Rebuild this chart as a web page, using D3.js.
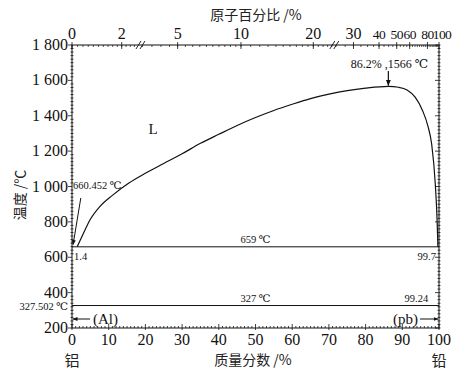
<!DOCTYPE html>
<html>
<head>
<meta charset="utf-8">
<script src="https://cdn.jsdelivr.net/npm/d3@7/dist/d3.min.js"></script>
<style>
  html, body { margin: 0; padding: 0; background: #fff; }
  svg { display: block; }
  .num { font-family: "Liberation Serif", "DejaVu Serif", serif; fill: #111; }
  .cjk { font-family: "Noto Sans CJK SC", sans-serif; fill: #222; }
</style>
</head>
<body>
<svg id="chart" width="459" height="375"></svg>
<script>
// bottom axis: mass % Pb
const wtTicks = [0, 10, 20, 30, 40, 50, 60, 70, 80, 90, 100];
// left axis: temperature
const tempTicks = [200, 400, 600, 800, 1000, 1200, 1400, 1600, 1800];
const tempLabels = ["200", "400", "600", "800", "1 000", "1 200", "1 400", "1 600", "1 800"];
// top axis: atomic % Pb
const atTicks = [0, 2, 5, 10, 20, 30, 40, 50, 60, 80, 100];
const atBreaks = [2.9, 24.6];

// liquidus (mass %, °C)
const liqWt = [1.4, 3, 5, 7.5, 11, 15.5, 20, 25, 30, 35, 40, 45, 50, 55, 60, 65, 70, 75, 80, 86.2, 89, 91.3, 93.5, 95.5, 97, 98, 99, 99.5, 99.7];
const liqT  = [659, 730, 815, 885, 950, 1020, 1075, 1130, 1185, 1244, 1295, 1345, 1390, 1430, 1465, 1497, 1522, 1542, 1556, 1566, 1561, 1546, 1505, 1430, 1340, 1240, 1010, 800, 659];

// invariant horizontals
const invTemps = [659, 327];

const svg = d3.select("#chart");
svg.append("rect").attr("width", 459).attr("height", 375).attr("fill", "#fff");

const x = d3.scaleLinear().domain([0, 100]).range([72, 439]);
const y = d3.scaleLinear().domain([200, 1800]).range([328, 45]);
const AL = 26.98, PB = 207.2;
const atToWt = a => 100 * a * PB / (a * PB + (100 - a) * AL);
const xTop = a => x(atToWt(a));

const ink = "#111";
const g = svg.append("g");

// frame
g.append("rect").attr("x", x(0)).attr("y", y(1800)).attr("width", x(100) - x(0)).attr("height", y(200) - y(1800))
  .attr("fill", "none").attr("stroke", ink).attr("stroke-width", 1);

// left and right axis ticks
d3.range(200, 1801, 20).forEach(t => {
  const major = t % 200 === 0;
  g.append("line").attr("x1", x(0) - (major ? 4 : 1.5)).attr("x2", x(0) + (major ? 0 : 1.5))
    .attr("y1", y(t)).attr("y2", y(t)).attr("stroke", ink).attr("stroke-width", 0.8);
  g.append("line").attr("x1", x(100) - (major ? 4 : 1.5)).attr("x2", x(100) + 1.5)
    .attr("y1", y(t)).attr("y2", y(t)).attr("stroke", ink).attr("stroke-width", 0.8);
});
tempTicks.forEach((t, i) => {
  g.append("text").attr("class", "num").attr("x", x(0) - 4).attr("y", y(t) + 5)
    .attr("text-anchor", "end").style("font-size", "16px").text(tempLabels[i]);
});

// bottom axis ticks
d3.range(0, 101, 1).forEach(w => {
  const major = w % 10 === 0;
  g.append("line").attr("x1", x(w)).attr("x2", x(w)).attr("y1", y(200) + (major ? 2 : 0)).attr("y2", y(200) - (major ? 4 : 2))
    .attr("stroke", ink).attr("stroke-width", 0.8);
});
wtTicks.forEach(w => {
  g.append("text").attr("class", "num").attr("x", x(w)).attr("y", 345)
    .attr("text-anchor", "middle").style("font-size", "16px").text(w);
});

// top axis ticks (atomic %)
const atMinor = d3.range(0, 2.8, 0.2).concat(d3.range(3, 10, 0.5), d3.range(10, 24.5, 1), d3.range(25, 100, 2.5));
atMinor.forEach(a => {
  g.append("line").attr("x1", xTop(a)).attr("x2", xTop(a)).attr("y1", y(1800)).attr("y2", y(1800) + 2)
    .attr("stroke", ink).attr("stroke-width", 0.7);
});
atTicks.forEach(a => {
  const tight = a >= 40;
  g.append("line").attr("x1", xTop(a)).attr("x2", xTop(a)).attr("y1", y(1800) - 3).attr("y2", y(1800) + 4)
    .attr("stroke", ink).attr("stroke-width", 0.8);
  g.append("text").attr("class", "num").attr("x", xTop(a) + (a === 100 ? 3 : 0)).attr("y", 39)
    .attr("text-anchor", "middle").style("font-size", tight ? "13.5px" : "16px")
    .style("letter-spacing", tight ? "-0.6px" : "0").text(a);
});
// axis breaks
atBreaks.forEach(a => {
  [-2, 2].forEach(dx => {
    g.append("line").attr("x1", xTop(a) + dx - 2.5).attr("x2", xTop(a) + dx + 2.5)
      .attr("y1", y(1800) + 4).attr("y2", y(1800) - 4).attr("stroke", ink).attr("stroke-width", 0.9);
  });
});

// invariant lines
invTemps.forEach(t => {
  g.append("line").attr("x1", x(0)).attr("x2", x(100)).attr("y1", y(t)).attr("y2", y(t))
    .attr("stroke", ink).attr("stroke-width", 1);
});

// liquidus
const liq = liqWt.map((w, i) => [w, liqT[i]]);
g.append("path").datum(liq)
  .attr("d", d3.line().x(d => x(d[0])).y(d => y(d[1])).curve(d3.curveMonotoneX))
  .attr("fill", "none").attr("stroke", ink).attr("stroke-width", 1.2);

// arrow marker
svg.append("defs").append("marker").attr("id", "arr").attr("viewBox", "0 0 10 10")
  .attr("refX", 9).attr("refY", 5).attr("markerWidth", 5).attr("markerHeight", 5).attr("orient", "auto")
  .append("path").attr("d", "M0,1 L10,5 L0,9 Z").attr("fill", ink);

// Al melting point leader
g.append("line").attr("x1", x(2.4)).attr("y1", y(935)).attr("x2", x(0.3)).attr("y2", y(672))
  .attr("stroke", ink).attr("stroke-width", 1).attr("marker-end", "url(#arr)");
g.append("text").attr("class", "num").attr("x", x(0) + 1).attr("y", y(985)).style("font-size", "10.5px").text("660.452 ℃");

// peak label
g.append("line").attr("x1", x(86.2)).attr("y1", 71).attr("x2", x(86.2)).attr("y2", y(1566) - 1)
  .attr("stroke", ink).attr("stroke-width", 1.2).attr("marker-end", "url(#arr)");
g.append("text").attr("class", "num").attr("x", x(86.2) + 1).attr("y", 68).attr("text-anchor", "middle")
  .style("font-size", "12px").text("86.2% ,1566 ℃");

// phase label
g.append("text").attr("class", "num").attr("x", 153).attr("y", 134).attr("text-anchor", "middle")
  .style("font-size", "15px").text("L");

// invariant labels
g.append("text").attr("class", "num").attr("x", x(50)).attr("y", y(659) - 4).attr("text-anchor", "middle")
  .style("font-size", "10.5px").text("659 ℃");
g.append("text").attr("class", "num").attr("x", x(50)).attr("y", y(327) - 4).attr("text-anchor", "middle")
  .style("font-size", "10.5px").text("327 ℃");
g.append("text").attr("class", "num").attr("x", x(0) + 2).attr("y", y(659) + 13).style("font-size", "10.5px").text("1.4");
g.append("text").attr("class", "num").attr("x", x(99.7) - 2).attr("y", y(659) + 13).attr("text-anchor", "end")
  .style("font-size", "10.5px").text("99.7");
g.append("text").attr("class", "num").attr("x", x(99.24) - 8).attr("y", y(327) - 4).attr("text-anchor", "end")
  .style("font-size", "10.5px").text("99.24");
g.append("text").attr("class", "num").attr("x", x(0) - 4).attr("y", y(327) + 4).attr("text-anchor", "end")
  .style("font-size", "10.5px").text("327.502 ℃");

// terminal solid solutions
const yss = 319;
g.append("line").attr("x1", 90).attr("x2", x(0) + 1).attr("y1", yss).attr("y2", yss)
  .attr("stroke", ink).attr("stroke-width", 1).attr("marker-end", "url(#arr)");
g.append("text").attr("class", "num").attr("x", 93).attr("y", yss + 5).style("font-size", "15px").text("(Al)");
g.append("line").attr("x1", 420).attr("x2", x(100) - 1).attr("y1", yss).attr("y2", yss)
  .attr("stroke", ink).attr("stroke-width", 1).attr("marker-end", "url(#arr)");
g.append("text").attr("class", "num").attr("x", 418).attr("y", yss + 5).attr("text-anchor", "end")
  .style("font-size", "15px").text("(pb)");

// titles
g.append("text").attr("class", "cjk").attr("x", 256).attr("y", 20).attr("text-anchor", "middle")
  .style("font-size", "14px").text("原子百分比 /%");
g.append("text").attr("class", "cjk").attr("x", 253).attr("y", 365).attr("text-anchor", "middle")
  .style("font-size", "14px").text("质量分数 /%");
g.append("text").attr("class", "cjk").attr("x", x(0)).attr("y", 366).attr("text-anchor", "middle")
  .style("font-size", "15px").text("铝");
g.append("text").attr("class", "cjk").attr("x", x(100)).attr("y", 366).attr("text-anchor", "middle")
  .style("font-size", "15px").text("铅");
g.append("text").attr("class", "cjk").attr("transform", "translate(25,195) rotate(-90)").attr("text-anchor", "middle")
  .style("font-size", "14px").text("温度 /℃");
</script>
</body>
</html>
